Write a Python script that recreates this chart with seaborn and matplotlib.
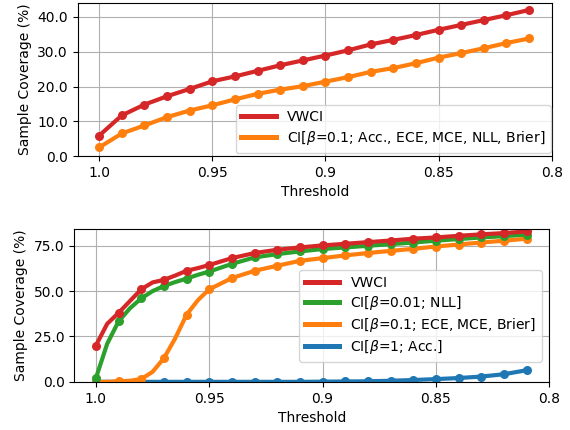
import matplotlib
matplotlib.use("Agg")
import matplotlib.pyplot as plt
from matplotlib.lines import Line2D
import seaborn as sns
import pandas as pd

# top panel
top_thresholds = [1.0, 0.99, 0.98, 0.97, 0.96, 0.95, 0.94, 0.93, 0.92, 0.91,
                  0.90, 0.89, 0.88, 0.87, 0.86, 0.85, 0.84, 0.83, 0.82, 0.81]
top_vwci = [5.9, 11.7, 14.8, 17.2, 19.3, 21.5, 22.9, 24.5, 26.1, 27.5,
            28.9, 30.4, 32.1, 33.4, 34.8, 36.3, 37.7, 39.1, 40.5, 42.0]
top_ci = [2.5, 6.5, 8.8, 11.2, 13.1, 14.6, 16.3, 17.9, 19.1, 20.1,
          21.4, 22.7, 24.2, 25.3, 26.7, 28.3, 29.6, 31.0, 32.5, 33.8]
top_labels = ["VWCI", r"CI[$\beta$=0.1; Acc., ECE, MCE, NLL, Brier]"]

# bottom panel (a few half-step points where the curves bend)
bot_thresholds = [1.0, 0.995, 0.99, 0.985, 0.98, 0.975, 0.97, 0.965, 0.96, 0.955,
                  0.95, 0.94, 0.93, 0.92, 0.91, 0.90, 0.89, 0.88, 0.87, 0.86,
                  0.85, 0.84, 0.83, 0.82, 0.81]
bot_vwci = [20.0, 32.0, 38.0, 44.5, 51.0, 54.8, 56.2, 58.6, 61.2, 62.7,
            64.4, 68.2, 71.0, 72.8, 74.1, 75.2, 76.1, 77.0, 77.9, 78.9,
            79.6, 80.5, 81.3, 82.0, 82.9]
bot_ci_nll = [2.0, 21.0, 33.3, 40.5, 46.0, 50.0, 52.8, 55.0, 56.9, 59.0,
              60.8, 65.0, 68.6, 70.4, 71.9, 73.2, 74.1, 75.0, 75.9, 76.8,
              77.8, 78.7, 79.6, 80.3, 81.2]
bot_ci_ece = [0.0, 0.0, 0.3, 0.6, 1.5, 5.5, 13.0, 24.0, 37.0, 45.0,
              51.0, 57.2, 61.2, 64.0, 66.7, 68.2, 69.7, 71.0, 72.2, 73.3,
              74.6, 75.7, 76.8, 77.8, 78.9]
bot_ci_acc = [0.0, 0.0, 0.0, 0.0, 0.0, 0.0, 0.0, 0.0, 0.0, 0.0,
              0.0, 0.0, 0.0, 0.0, 0.0, 0.1, 0.2, 0.3, 0.6, 1.0,
              1.5, 2.1, 2.9, 4.2, 6.4]
bot_labels = ["VWCI", r"CI[$\beta$=0.01; NLL]",
              r"CI[$\beta$=0.1; ECE, MCE, Brier]", r"CI[$\beta$=1; Acc.]"]

xticks = [1.0, 0.95, 0.9, 0.85, 0.8]
xticklabels = ["1.0", "0.95", "0.9", "0.85", "0.8"]

RED, ORANGE, GREEN, BLUE = "#d62728", "#ff7f0e", "#2ca02c", "#1f77b4"

plt.rcParams["font.family"] = ["DejaVu Sans"]
plt.rcParams["font.size"] = 10

fig = plt.figure(figsize=(5.7, 4.3), dpi=100)
ax1 = fig.add_axes([0.1363, 0.637, 0.8316, 0.356])
ax2 = fig.add_axes([0.1304, 0.112, 0.8333, 0.3565])

line_kw = dict(marker="o", markersize=6.5, linewidth=3, markeredgewidth=0)

def draw(ax, xs, ys, color):
    df = pd.DataFrame({"thr": xs, "cov": ys})
    on_grid = [i for i, t in enumerate(xs) if abs(round(t * 100) - t * 100) < 1e-6]
    sns.lineplot(data=df, x="thr", y="cov", color=color, ax=ax, sort=False,
                 markevery=on_grid, **line_kw)

draw(ax1, top_thresholds, top_ci, ORANGE)
draw(ax1, top_thresholds, top_vwci, RED)

draw(ax2, bot_thresholds, bot_ci_acc, BLUE)
draw(ax2, bot_thresholds, bot_ci_ece, ORANGE)
draw(ax2, bot_thresholds, bot_ci_nll, GREEN)
draw(ax2, bot_thresholds, bot_vwci, RED)

for ax in (ax1, ax2):
    ax.set_xlim(1.0095, 0.8)
    ax.set_xticks(xticks)
    ax.set_xticklabels(xticklabels)
    ax.grid(True, color="#b0b0b0", linewidth=0.8)
    ax.set_axisbelow(True)
    ax.set_xlabel("Threshold")
    ax.set_ylabel("Sample Coverage (%)")

ax1.set_ylim(0, 44)
ax1.set_yticks([0, 10, 20, 30, 40])
ax1.set_yticklabels(["0.0", "10.0", "20.0", "30.0", "40.0"])
ax2.set_ylim(0, 84.5)
ax2.set_yticks([0, 25, 50, 75])
ax2.set_yticklabels(["0.0", "25.0", "50.0", "75.0"])

h1 = [Line2D([], [], color=c, linewidth=3.6) for c in (RED, ORANGE)]
ax1.legend(h1, top_labels, loc="lower right", bbox_to_anchor=(0.9985, 0.022),
           borderaxespad=0, handlelength=2.5, labelspacing=0.35, fancybox=True)

h2 = [Line2D([], [], color=c, linewidth=3.6) for c in (RED, GREEN, ORANGE, BLUE)]
ax2.legend(h2, bot_labels, loc="lower right", bbox_to_anchor=(0.984, 0.132),
           borderaxespad=0, handlelength=2.5, labelspacing=0.3, fancybox=True)

fig.savefig("out.png", dpi=100)
